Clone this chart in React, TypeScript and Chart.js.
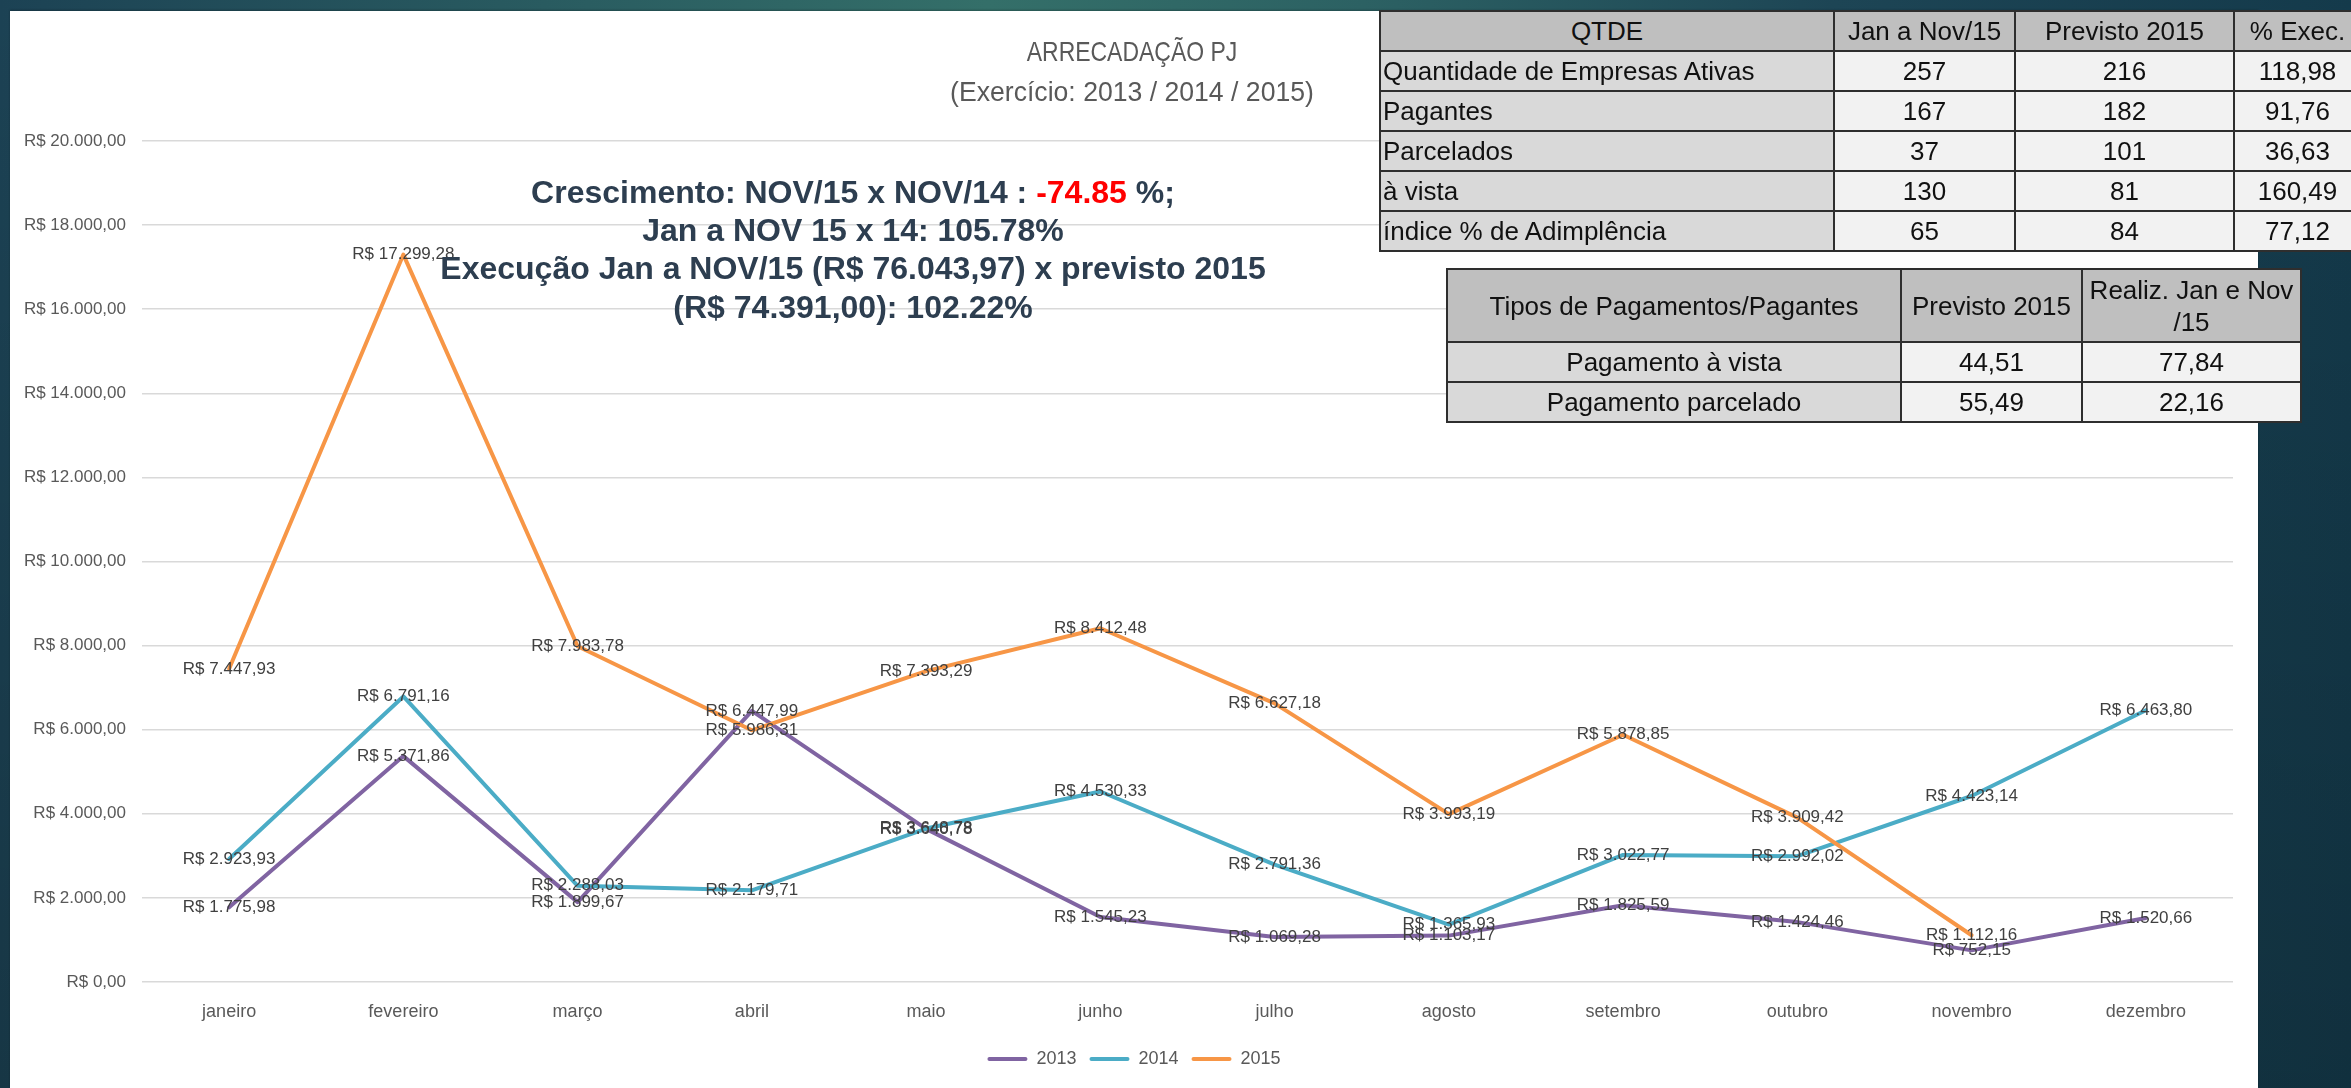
import React, { useEffect, useRef } from "react";
import { Chart, registerables } from "chart.js";

Chart.register(...registerables);

// ---------- data ----------
const months = ["janeiro", "fevereiro", "março", "abril", "maio", "junho", "julho", "agosto", "setembro", "outubro", "novembro", "dezembro"];
const values2013 = [1775.98, 5371.86, 1899.67, 6447.99, 3640.78, 1545.23, 1069.28, 1103.17, 1825.59, 1424.46, 752.15, 1520.66];
const values2014 = [2923.93, 6791.16, 2288.03, 2179.71, 3648.78, 4530.33, 2791.36, 1365.93, 3022.77, 2992.02, 4423.14, 6463.8];
const values2015 = [7447.93, 17299.28, 7983.78, 5986.31, 7393.29, 8412.48, 6627.18, 3993.19, 5878.85, 3909.42, 1112.16, null];
const seriesNames = ["2013", "2014", "2015"];
const seriesColors = ["#8064A2", "#4BACC6", "#F79646"];
const yMin = 0;
const yMax = 20000;
const yStep = 2000;

const chartTitle = "ARRECADAÇÃO PJ";
const chartSubtitle = "(Exercício: 2013 / 2014 / 2015)";
const noteLine1a = "Crescimento: NOV/15 x NOV/14 : ";
const noteLine1b = "-74.85";
const noteLine1c = " %;";
const noteLine2 = "Jan a NOV 15 x 14: 105.78%";
const noteLine3 = "Execução Jan a NOV/15 (R$ 76.043,97) x previsto 2015";
const noteLine4 = "(R$ 74.391,00): 102.22%";

const table1Header = ["QTDE", "Jan a Nov/15", "Previsto 2015", "% Exec."];
const table1Rows = [
  ["Quantidade de Empresas Ativas", "257", "216", "118,98"],
  ["Pagantes", "167", "182", "91,76"],
  ["Parcelados", "37", "101", "36,63"],
  ["à vista", "130", "81", "160,49"],
  ["índice % de Adimplência", "65", "84", "77,12"],
];
const table2Header = ["Tipos de Pagamentos/Pagantes", "Previsto 2015", "Realiz. Jan e Nov\n/15"];
const table2Rows = [
  ["Pagamento à vista", "44,51", "77,84"],
  ["Pagamento parcelado", "55,49", "22,16"],
];

// ---------- helpers ----------
const FONT = "'Liberation Sans', Arial, sans-serif";

function brl(v: number): string {
  const fixed = Math.abs(v).toFixed(2);
  const [intPart, dec] = fixed.split(".");
  const withDots = intPart.replace(/\B(?=(\d{3})+(?!\d))/g, ".");
  return "R$ " + (v < 0 ? "-" : "") + withDots + "," + dec;
}

const dataLabelPlugin = {
  id: "dataLabels",
  afterDatasetsDraw(chart: any) {
    const ctx = chart.ctx;
    ctx.save();
    ctx.font = `17px ${FONT}`;
    ctx.fillStyle = "#404040";
    ctx.textAlign = "center";
    ctx.textBaseline = "middle";
    chart.data.datasets.forEach((ds: any, i: number) => {
      const meta = chart.getDatasetMeta(i);
      meta.data.forEach((el: any, j: number) => {
        const v = ds.data[j];
        if (v === null || v === undefined) return;
        ctx.fillText(brl(v), el.x, el.y);
      });
    });
    ctx.restore();
  },
};

function ChartCanvas() {
  const ref = useRef<HTMLCanvasElement | null>(null);
  useEffect(() => {
    if (!ref.current) return;
    const allSeries = [values2013, values2014, values2015];
    const chart = new Chart(ref.current, {
      type: "line",
      data: {
        labels: months,
        datasets: allSeries.map((vals, i) => ({
          label: seriesNames[i],
          data: vals,
          borderColor: seriesColors[i],
          backgroundColor: seriesColors[i],
          borderWidth: 4,
          pointRadius: 0,
          pointHoverRadius: 0,
          tension: 0,
          spanGaps: false,
          borderJoinStyle: "round",
          borderCapStyle: "round",
          order: 3 - i,
        })) as any,
      },
      options: {
        animation: false,
        responsive: false,
        maintainAspectRatio: false,
        layout: { padding: { left: 0, right: 0, top: 130, bottom: 10 } },
        plugins: {
          tooltip: { enabled: false },
          title: { display: false },
          legend: {
            display: true,
            position: "bottom",
            labels: {
              boxWidth: 40,
              boxHeight: 4,
              padding: 13,
              color: "#595959",
              font: { family: FONT, size: 18 },
              useBorderRadius: true,
              borderRadius: 2,
              sort: (a: any, b: any) => a.datasetIndex - b.datasetIndex,
              generateLabels: (c: any) =>
                (Chart.defaults.plugins.legend.labels as any).generateLabels(c).map((l: any) => ({
                  ...l,
                  lineWidth: 0,
                  fillStyle: seriesColors[l.datasetIndex],
                  strokeStyle: seriesColors[l.datasetIndex],
                })),
            },
          } as any,
        },
        scales: {
          x: {
            offset: true,
            grid: { display: false, drawTicks: false },
            border: { display: false },
            ticks: {
              color: "#595959",
              font: { family: FONT, size: 18 },
              padding: 19,
              maxRotation: 0,
              autoSkip: false,
            },
            afterFit: (s: any) => {
              s.height = 55;
            },
          },
          y: {
            min: yMin,
            max: yMax,
            grid: { color: "#d9d9d9", lineWidth: 1.5, drawTicks: false },
            border: { display: false },
            ticks: {
              stepSize: yStep,
              color: "#595959",
              font: { family: FONT, size: 17 },
              padding: 16,
              callback: (v: any) => brl(Number(v)),
            },
            afterFit: (s: any) => {
              s.width = 132;
            },
          },
          yRight: {
            position: "right",
            display: true,
            grid: { display: false, drawTicks: false },
            border: { display: false },
            ticks: { display: false },
            afterFit: (s: any) => {
              s.width = 25;
            },
          },
        },
      } as any,
      plugins: [dataLabelPlugin],
    });
    return () => chart.destroy();
  }, []);
  return (
    <canvas
      ref={ref}
      width={2248}
      height={1077}
      style={{ position: "absolute", left: 0, top: 0, width: 2248, height: 1077 }}
    />
  );
}

const borderCol = "2px solid #2e2e2e";

function Table1() {
  const widths = [454, 181, 219, 127];
  return (
    <table
      style={{
        position: "absolute",
        left: 1379,
        top: 10,
        width: 981,
        borderCollapse: "collapse",
        tableLayout: "fixed",
        fontFamily: FONT,
        fontSize: 26,
        color: "#111",
        zIndex: 3,
      }}
    >
      <colgroup>
        {widths.map((w, i) => (
          <col key={i} style={{ width: w }} />
        ))}
      </colgroup>
      <tbody>
        <tr style={{ height: 40 }}>
          {table1Header.map((h, i) => (
            <td key={i} style={{ border: borderCol, background: "#bfbfbf", textAlign: "center", padding: 0, whiteSpace: "nowrap", overflow: "hidden" }}>
              {h}
            </td>
          ))}
        </tr>
        {table1Rows.map((row, r) => (
          <tr key={r} style={{ height: 40 }}>
            {row.map((c, i) => (
              <td
                key={i}
                style={{
                  border: borderCol,
                  background: i === 0 ? "#d9d9d9" : "#f2f2f2",
                  textAlign: i === 0 ? "left" : "center",
                  padding: i === 0 ? "0 0 0 2px" : 0,
                  whiteSpace: "nowrap",
                  overflow: "hidden",
                }}
              >
                {c}
              </td>
            ))}
          </tr>
        ))}
      </tbody>
    </table>
  );
}

function Table2() {
  const widths = [454, 181, 219];
  return (
    <table
      style={{
        position: "absolute",
        left: 1446,
        top: 268,
        width: 854,
        borderCollapse: "collapse",
        tableLayout: "fixed",
        fontFamily: FONT,
        fontSize: 26,
        color: "#111",
        zIndex: 3,
      }}
    >
      <colgroup>
        {widths.map((w, i) => (
          <col key={i} style={{ width: w }} />
        ))}
      </colgroup>
      <tbody>
        <tr style={{ height: 73 }}>
          {table2Header.map((h, i) => (
            <td
              key={i}
              style={{ border: borderCol, background: "#bfbfbf", textAlign: "center", padding: 0, whiteSpace: "pre-line", lineHeight: "32px" }}
            >
              {h}
            </td>
          ))}
        </tr>
        {table2Rows.map((row, r) => (
          <tr key={r} style={{ height: 40 }}>
            {row.map((c, i) => (
              <td
                key={i}
                style={{
                  border: borderCol,
                  background: i === 0 ? "#d9d9d9" : "#f2f2f2",
                  textAlign: "center",
                  padding: 0,
                  whiteSpace: "nowrap",
                }}
              >
                {c}
              </td>
            ))}
          </tr>
        ))}
      </tbody>
    </table>
  );
}

export default function App() {
  useEffect(() => {
    document.body.style.margin = "0";
    document.body.style.overflow = "hidden";
  }, []);
  const noteStyle: React.CSSProperties = {
    position: "absolute",
    left: 353,
    width: 1000,
    textAlign: "center",
    fontFamily: FONT,
    fontWeight: "bold",
    fontSize: 32,
    lineHeight: "38px",
    color: "#2d3e50",
    whiteSpace: "nowrap",
    zIndex: 2,
  };
  return (
    <div
      style={{
        position: "relative",
        width: 2351,
        height: 1088,
        overflow: "hidden",
        background:
          "linear-gradient(180deg, rgba(0,0,0,0) 0%, rgba(0,0,0,0.18) 100%), linear-gradient(90deg, #1c4254 0%, #2a5d61 25%, #346f69 42%, #2c6163 58%, #1d4555 78%, #143a4b 100%)",
      }}
    >
      <div
        style={{
          position: "absolute",
          left: 10,
          top: 11,
          width: 2248,
          height: 1077,
          background: "#ffffff",
          boxShadow: "0 -1px 2px rgba(0,0,0,0.25)",
        }}
      >
        <ChartCanvas />
      </div>
      <div
        style={{
          position: "absolute",
          left: 832,
          top: 35,
          width: 600,
          textAlign: "center",
          fontFamily: FONT,
          fontSize: 28,
          lineHeight: "34px",
          color: "#595959",
          transform: "scaleX(0.82)",
          transformOrigin: "50% 50%",
          whiteSpace: "nowrap",
        }}
      >
        {chartTitle}
      </div>
      <div
        style={{
          position: "absolute",
          left: 832,
          top: 75,
          width: 600,
          textAlign: "center",
          fontFamily: FONT,
          fontSize: 28,
          lineHeight: "34px",
          color: "#595959",
          transform: "scaleX(0.95)",
          transformOrigin: "50% 50%",
          whiteSpace: "nowrap",
        }}
      >
        {chartSubtitle}
      </div>
      <div style={{ ...noteStyle, top: 173 }}>
        {noteLine1a}
        <span style={{ color: "#ff0000" }}>{noteLine1b}</span>
        {noteLine1c}
      </div>
      <div style={{ ...noteStyle, top: 211 }}>{noteLine2}</div>
      <div style={{ ...noteStyle, top: 249 }}>{noteLine3}</div>
      <div style={{ ...noteStyle, top: 288 }}>{noteLine4}</div>
      <Table1 />
      <Table2 />
    </div>
  );
}
